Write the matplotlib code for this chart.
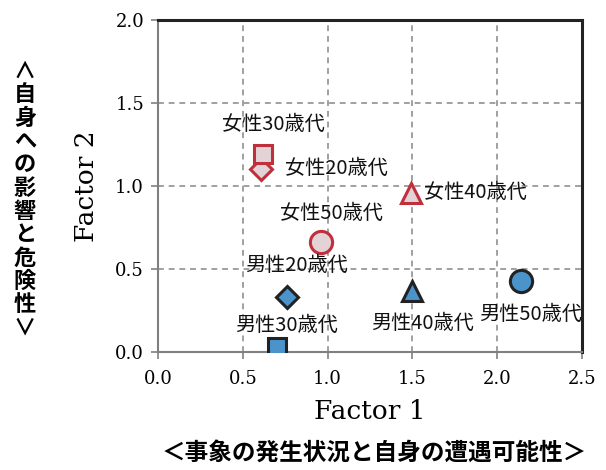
import matplotlib
matplotlib.use('Agg')
import matplotlib.pyplot as plt

# データ（因子得点）
groups = ['女性20歳代', '女性30歳代', '女性40歳代', '女性50歳代',
          '男性20歳代', '男性30歳代', '男性40歳代', '男性50歳代']
factor1 = [0.61, 0.62, 1.49, 0.96, 0.76, 0.70, 1.50, 2.14]
factor2 = [1.10, 1.19, 0.96, 0.66, 0.33, 0.03, 0.37, 0.43]

markers = ['D', 's', '^', 'o', 'D', 's', '^', 'o']
sizes = [11, 13, 15, 16, 11, 13, 15, 16]
# ラベル位置（マーカーからのずれ, pixel）
offsets = [(75, 1), (10, 30), (65, 0), (11, 29),
           (10, 32), (10, 22), (10, -33), (10, -34)]

jp = ['Noto Sans CJK JP', 'DejaVu Sans']
serif = 'DejaVu Serif'

fig = plt.figure(figsize=(6.06, 4.70), dpi=100)
ax = fig.add_axes([0.2607, 0.2511, 0.6997, 0.7063])

for i, name in enumerate(groups):
    if name.startswith('女性'):
        fc, ec = '#E3D2D6', '#C0303C'
    else:
        fc, ec = '#4A93CB', '#222222'
    ax.plot(factor1[i], factor2[i], marker=markers[i], ms=sizes[i],
            mfc=fc, mec=ec, mew=2.2, ls='none', zorder=5)
    dx, dy = offsets[i]
    ax.annotate(name, (factor1[i], factor2[i]), xytext=(dx, dy),
                textcoords='offset pixels', ha='center', va='center',
                fontsize=14.5, family=jp, color='#111111', zorder=6)

ax.set_xlim(0, 2.5)
ax.set_ylim(0, 2.0)
ax.set_xticks([0, 0.5, 1.0, 1.5, 2.0, 2.5])
ax.set_yticks([0, 0.5, 1.0, 1.5, 2.0])
ax.set_xticklabels(['0.0', '0.5', '1.0', '1.5', '2.0', '2.5'], family=serif, fontsize=13)
ax.set_yticklabels(['0.0', '0.5', '1.0', '1.5', '2.0'], family=serif, fontsize=13)
ax.tick_params(direction='out', length=5, width=1.2, color='#808080', pad=5)
ax.tick_params(axis='x', pad=8)

ax.grid(True, ls=(0, (3, 2.5)), color='#A0A0A0', lw=1.4)
ax.set_axisbelow(True)

for s in ['left', 'bottom']:
    ax.spines[s].set_color('#808080')
    ax.spines[s].set_linewidth(1.5)
for s in ['top', 'right']:
    ax.spines[s].set_color('#222222')
    ax.spines[s].set_linewidth(2.2)

ax.set_xlabel('Factor 1', family=serif, fontsize=19, labelpad=8)
ax.set_ylabel('Factor 2', family=serif, fontsize=19, labelpad=12)

fig.text(0.617, 0.036, '＜事象の発生状況と自身の遭遇可能性＞', family=jp,
         fontsize=17, fontweight='bold', ha='center', va='center')
ylab = '\n'.join('∧自身への影響と危険性∨')
fig.text(0.041, 0.575, ylab, family=jp, fontsize=16, fontweight='bold',
         ha='center', va='center', linespacing=1.02)

fig.savefig('out.png', dpi=100)
